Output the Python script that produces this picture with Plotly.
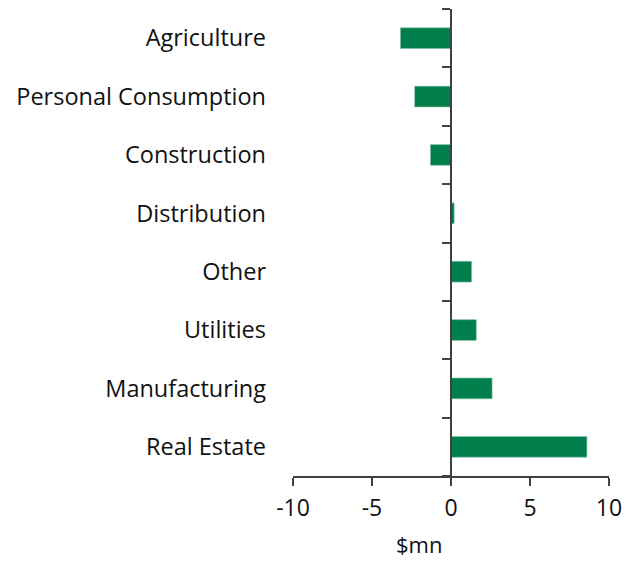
import plotly.graph_objects as go

categories = ["Agriculture", "Personal Consumption", "Construction", "Distribution",
              "Other", "Utilities", "Manufacturing", "Real Estate"]
values = [-3.2, -2.3, -1.3, 0.2, 1.3, 1.6, 2.6, 8.6]
x_ticks = [-10, -5, 0, 5, 10]
x_title = "$mn"

FONT = "Open Sans, Calibri, Carlito, sans-serif"
AXIS = "#404040"

fig = go.Figure()
fig.add_trace(go.Bar(
    x=values, y=categories, orientation="h",
    marker=dict(color="#007E4C", line=dict(color="#7fbfa5", width=0.6)),
    yaxis="y", showlegend=False, hoverinfo="x+y",
))
# invisible trace to carry the central category axis
fig.add_trace(go.Scatter(
    x=[0] * len(categories), y=categories, yaxis="y2", mode="markers",
    marker=dict(opacity=0), showlegend=False, hoverinfo="skip",
))

cat_rev = list(reversed(categories))
fig.update_layout(
    width=628, height=553,
    margin=dict(l=285, r=27, t=1, b=85, autoexpand=False),
    paper_bgcolor="white", plot_bgcolor="white",
    font=dict(family=FONT, size=23, color="#111111"),
    bargap=0.645,
    xaxis=dict(
        range=[-10, 10], tickvals=x_ticks, ticktext=[str(v) for v in x_ticks],
        showgrid=False, zeroline=False, showline=True, linecolor=AXIS, linewidth=1.5,
        ticks="outside", ticklen=8, tickcolor=AXIS, tickwidth=1.5,
        ticklabelstandoff=3, automargin=False,
        tickfont=dict(size=23),
    ),
    yaxis=dict(
        categoryorder="array", categoryarray=cat_rev, range=[-0.5, 7.5],
        showgrid=False, zeroline=False, showline=False, ticks="",
        ticklabelstandoff=26, tickfont=dict(size=23.5), automargin=False,
    ),
    yaxis2=dict(
        overlaying="y", anchor="free", position=0.5,
        categoryorder="array", categoryarray=cat_rev, range=[-0.5, 7.5],
        showgrid=False, zeroline=False, showline=True, linecolor=AXIS, linewidth=1.5,
        ticks="outside", tickson="boundaries", ticklen=8, tickcolor=AXIS, tickwidth=1.5,
        showticklabels=False, side="left", automargin=False,
    ),
    annotations=[dict(
        text=x_title, xref="paper", yref="paper", x=0.398, y=0,
        xanchor="center", yanchor="middle", yshift=-68, showarrow=False,
        font=dict(size=22, family=FONT, color="#111111"),
    )],
)
fig.write_html("out.html")
